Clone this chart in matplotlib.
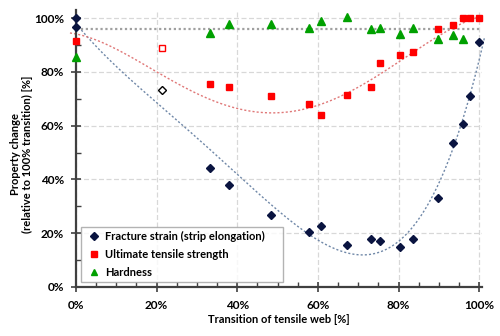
import numpy as np
import matplotlib.pyplot as plt
from matplotlib.ticker import MultipleLocator, PercentFormatter

plt.rcParams['font.family'] = ['Lato', 'DejaVu Sans']

# fracture strain (strip elongation), % of 100% transition
fs_x = [0, 0, 33.3, 38.0, 48.4, 57.8, 60.7, 67.3, 73.1, 75.3, 80.3, 83.6, 89.8, 93.4, 96.0, 97.6, 100]
fs_y = [100, 96.8, 44.3, 37.9, 26.8, 20.3, 22.8, 15.6, 17.8, 17.0, 14.8, 17.8, 33.2, 53.4, 60.5, 71.0, 91.1]

# ultimate tensile strength
uts_x = [0, 33.3, 38.0, 48.4, 57.8, 60.7, 67.3, 73.1, 75.3, 80.3, 83.6, 89.8, 93.4, 96.0, 97.6, 100]
uts_y = [91.6, 75.5, 74.3, 71.0, 67.9, 63.8, 71.3, 74.5, 83.2, 86.2, 87.5, 95.8, 97.6, 100, 100.2, 100]

# hardness
hd_x = [0, 33.3, 38.0, 48.4, 57.8, 60.7, 67.3, 73.1, 75.3, 80.3, 83.6, 89.8, 93.4, 96.0]
hd_y = [85.6, 94.3, 98.0, 98.0, 96.3, 99.0, 100.3, 95.9, 96.2, 94.1, 96.5, 92.2, 93.9, 92.2]

# outliers (open markers)
out_x = [21.4]
out_fs = [73.2]
out_uts = [88.8]

# trend lines
fs_trend_x = [0, 20, 38.2, 43.2, 59.7, 71.3, 80.4, 92, 96.1, 101.3]
fs_trend_y = [97.8, 69.3, 43.5, 37.3, 18.1, 12.3, 17.5, 47.2, 59.6, 94.3]
uts_trend_x = [-1.5, 0, 21.4, 33.3, 48.4, 53, 57.8, 67.3, 80.3, 89.8, 100]
uts_trend_y = [94.7, 94, 78, 70.5, 65.8, 64.8, 66, 71.7, 83.6, 94.4, 100]
hd_trend = 95.9

fig = plt.figure(figsize=(5, 3.36), dpi=100)
ax = fig.add_axes([0.152, 0.146, 0.812, 0.824])

xt = np.linspace(fs_trend_x[0], fs_trend_x[-1], 200)
ax.plot(xt, np.polyval(np.polyfit(fs_trend_x, fs_trend_y, 4), xt), ls=(0, (1.5, 1.5)),
        color='#7088a8', lw=1.0, zorder=2, clip_on=False)
xr = np.linspace(uts_trend_x[0], uts_trend_x[-1], 200)
ax.plot(xr, np.polyval(np.polyfit(uts_trend_x, uts_trend_y, 4), xr), ls=(0, (1.5, 1.5)),
        color='#e07878', lw=1.0, zorder=2, clip_on=False)
ax.plot([0, 100], [hd_trend, hd_trend], ls=(0, (1, 1.2)), color='#a0a0a0', lw=1.6, zorder=2)

ax.plot(fs_x, fs_y, 'D', color='#0a1440', ms=4.5, ls='none', label='Fracture strain (strip elongation)', zorder=4, clip_on=False)
ax.plot(uts_x, uts_y, 's', color='#ff0000', ms=5, ls='none', label='Ultimate tensile strength', zorder=4, clip_on=False)
ax.plot(hd_x, hd_y, '^', color='#00a000', ms=5.5, ls='none', label='Hardness', zorder=4, clip_on=False)
ax.plot(out_x, out_fs, 'D', mfc='white', mec='#000000', mew=1, ms=4.5, ls='none', zorder=4)
ax.plot(out_x, out_uts, 's', mfc='white', mec='#ff0000', mew=1, ms=5, ls='none', zorder=4)

ax.set_xlim(0, 100.7)
ax.set_ylim(0, 103)
ax.xaxis.set_major_locator(MultipleLocator(20))
ax.xaxis.set_minor_locator(MultipleLocator(5))
ax.yaxis.set_major_locator(MultipleLocator(20))
ax.yaxis.set_minor_locator(MultipleLocator(10))
ax.xaxis.set_major_formatter(PercentFormatter(decimals=0))
ax.yaxis.set_major_formatter(PercentFormatter(decimals=0))
ax.tick_params(which='major', direction='inout', length=7, width=1.2, color='#404040', labelsize=8.5)
ax.tick_params(which='minor', direction='in', length=3.5, width=1, color='#404040')
ax.tick_params(axis='x', which='major', pad=6)
ax.tick_params(axis='y', which='major', pad=5)
for lab in ax.get_xticklabels() + ax.get_yticklabels():
    lab.set_fontweight('bold')

ax.grid(True, which='major', ls=(0, (4, 2)), color='#d8d8d8', lw=0.9, zorder=0)
ax.set_axisbelow(True)
for s in ['top', 'right']:
    ax.spines[s].set_visible(False)
for s in ['left', 'bottom']:
    ax.spines[s].set_color('#404040')
    ax.spines[s].set_linewidth(1.6)

ax.set_xlabel('Transition of tensile web [%]', fontsize=8, fontweight='bold', labelpad=2)
ax.set_ylabel('Property change\n(relative to 100% transition) [%]', fontsize=8, fontweight='bold',
              linespacing=1.1)
ax.yaxis.set_label_coords(-0.106, 0.48)

leg = ax.legend(loc='lower left', bbox_to_anchor=(0.0123, 0.018, 0.497, 0.2), mode='expand',
                prop={'weight': 'bold', 'size': 8}, frameon=True, fancybox=False, edgecolor='#a0a0a0',
                handletextpad=0.2, handlelength=1.6, borderpad=0.4, labelspacing=0.6,
                markerscale=0.8, borderaxespad=0)
leg.get_frame().set_linewidth(1.0)

fig.savefig('out.png', dpi=100)
